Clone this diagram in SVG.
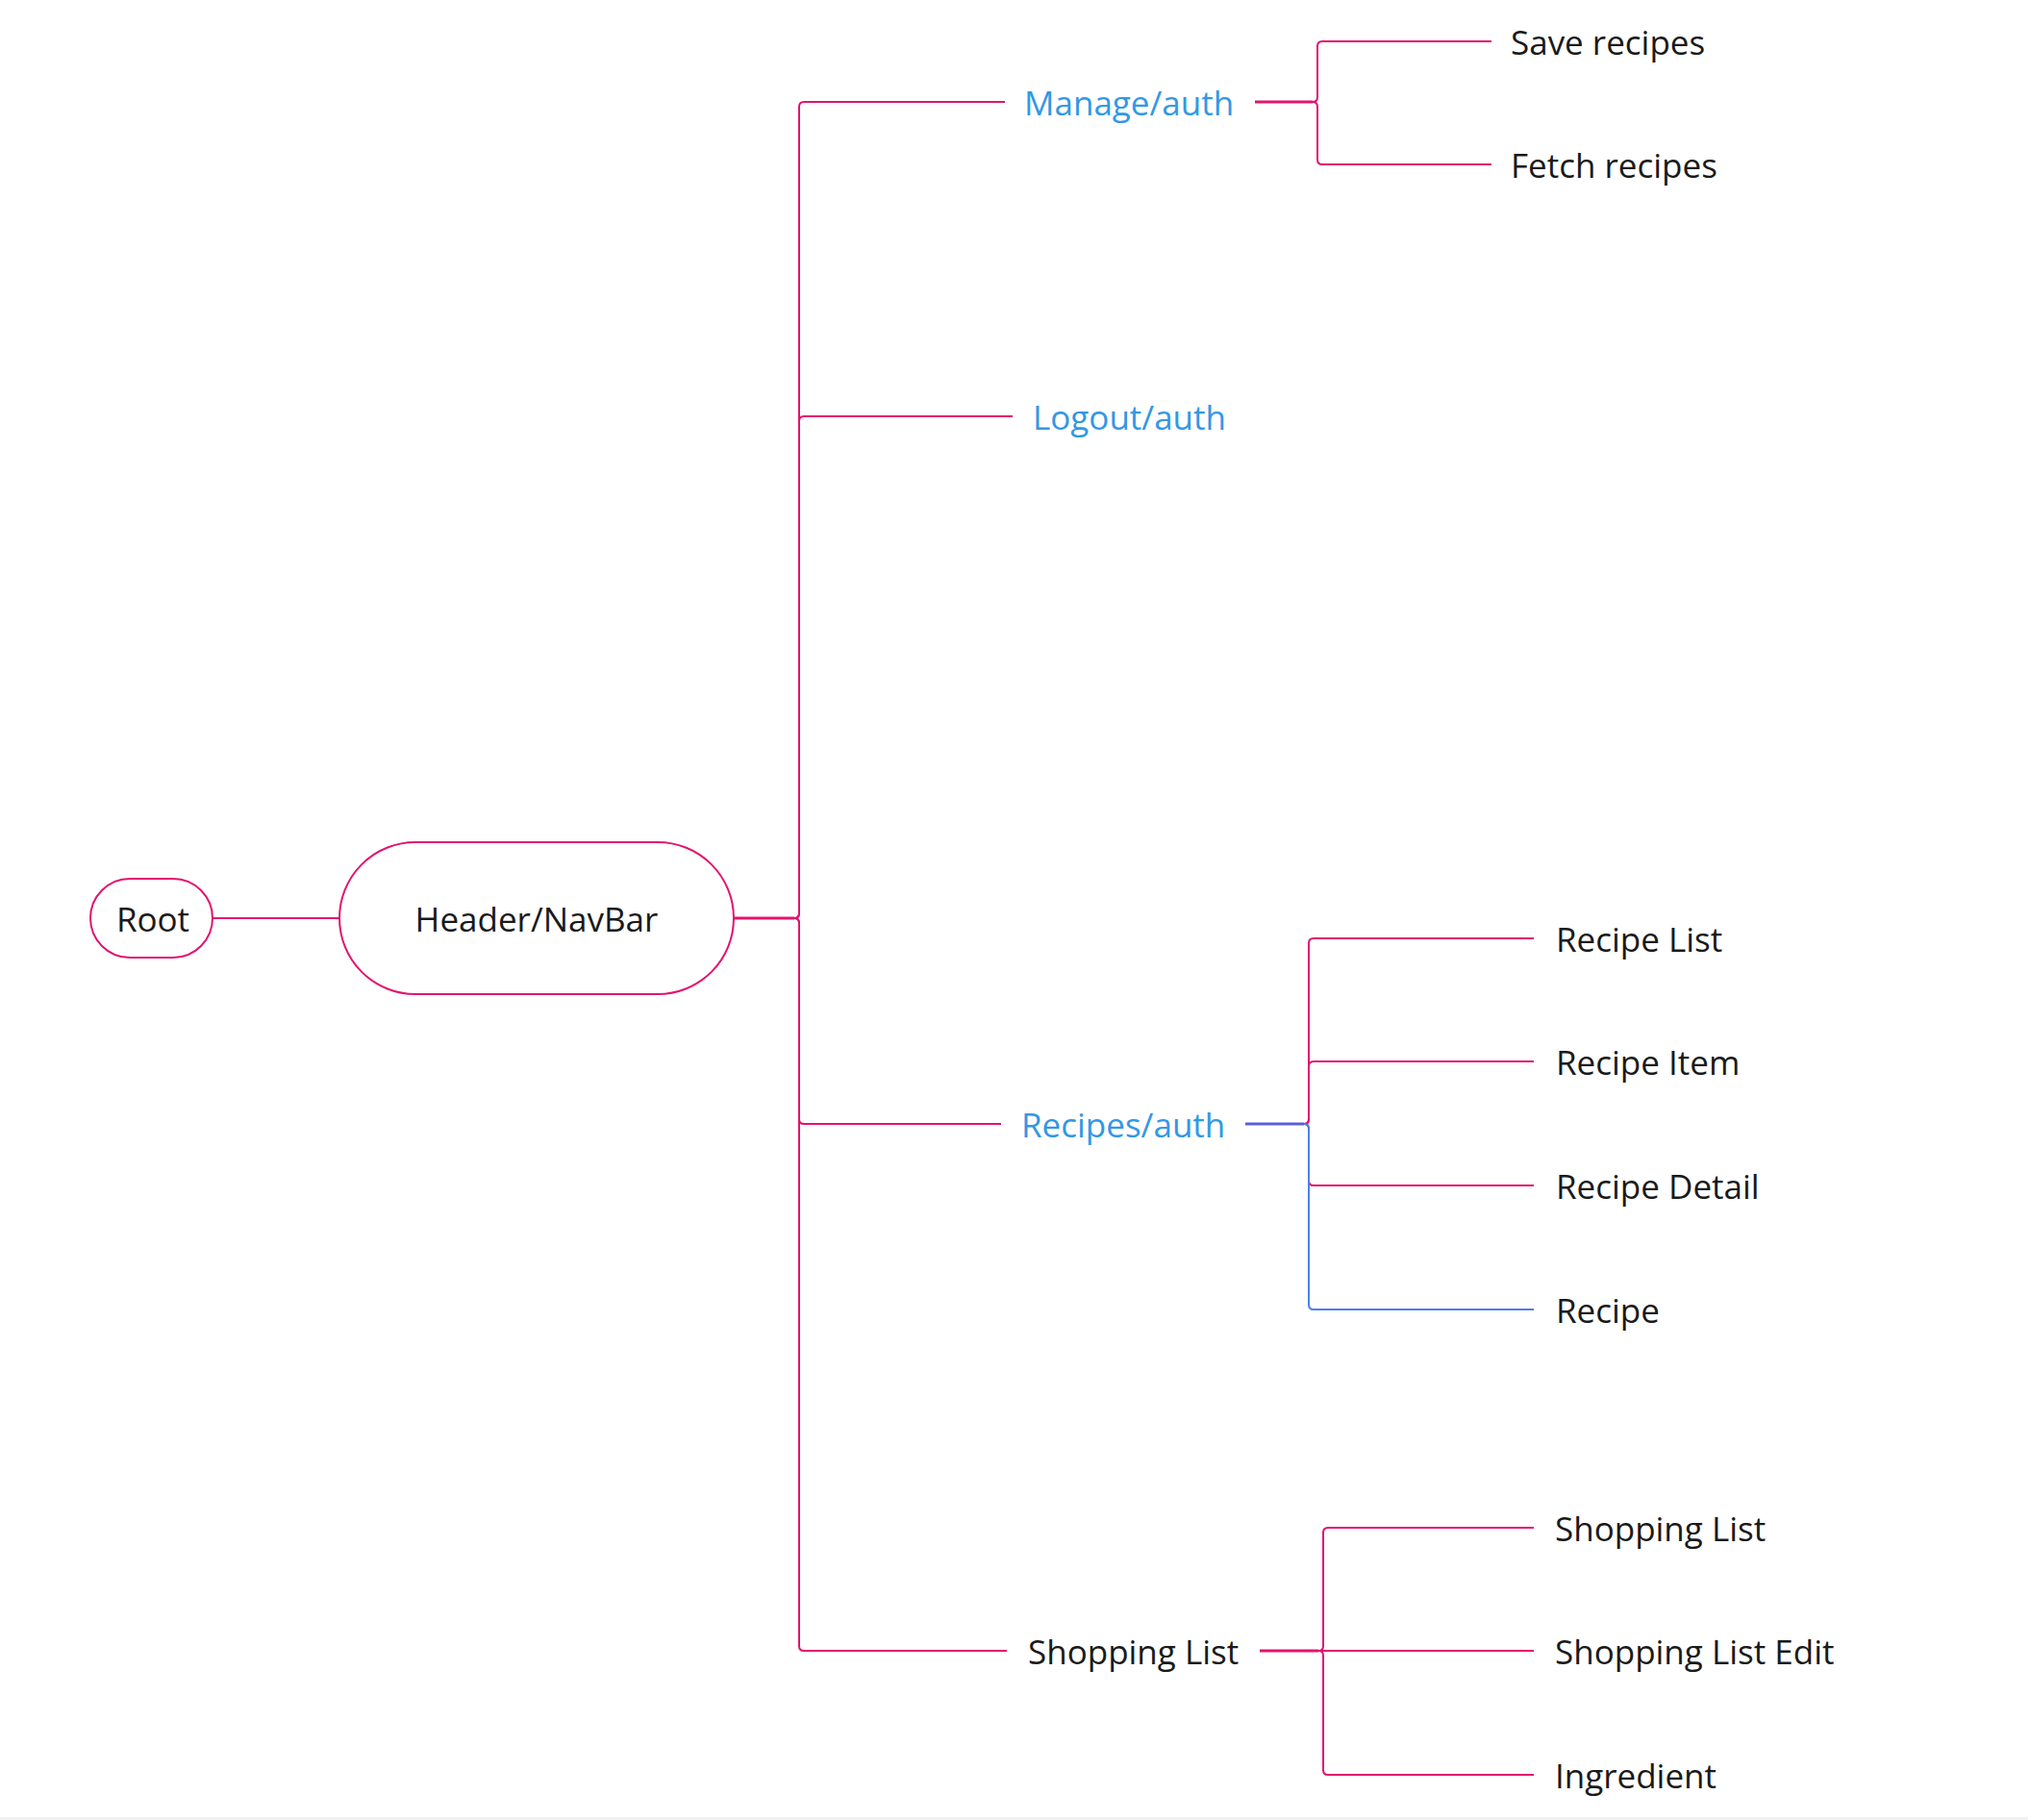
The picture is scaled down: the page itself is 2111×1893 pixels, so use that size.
<svg xmlns="http://www.w3.org/2000/svg" width="2111" height="1893" viewBox="0 0 2111 1893">
<style>
.t{font-family:"Open Sans","Noto Sans",sans-serif;font-size:35px;fill:#1a1a1a;dominant-baseline:central}
.b{fill:#3398e4}
.c{fill:none;stroke:#e2146f;stroke-width:2}
.s{fill:none;stroke:#e2146f;stroke-width:3}
.bl{fill:none;stroke:#4f7fe6;stroke-width:2}
.pu{fill:none;stroke:#5a5fdc;stroke-width:3}
.n{fill:#fff;stroke:#e2146f;stroke-width:2}
</style>
<rect x="0" y="0" width="2111" height="1893" fill="#fff"/>
<rect x="0" y="1890" width="2109" height="3" fill="#f2f2f2"/>
<g id="connectors">
<path class="c" d="M221 955 H353"/>
<path class="c" d="M763 955 H826 Q831 955 831 950 V111 Q831 106 836 106 H1045"/>
<path class="c" d="M763 955 H826 Q831 955 831 950 V438 Q831 433 836 433 H1053"/>
<path class="c" d="M763 955 H826 Q831 955 831 960 V1164 Q831 1169 836 1169 H1041"/>
<path class="c" d="M763 955 H826 Q831 955 831 960 V1712 Q831 1717 836 1717 H1047"/>
<path class="s" d="M763 955 H826"/>
<path class="c" d="M1305 106 H1365 Q1370 106 1370 101 V48 Q1370 43 1375 43 H1551"/>
<path class="c" d="M1305 106 H1365 Q1370 106 1370 111 V166 Q1370 171 1375 171 H1551"/>
<path class="s" d="M1305 106 H1365"/>
<path class="c" d="M1295 1169 H1356 Q1361 1169 1361 1164 V981 Q1361 976 1366 976 H1595"/>
<path class="c" d="M1295 1169 H1356 Q1361 1169 1361 1164 V1109 Q1361 1104 1366 1104 H1595"/>
<path class="c" d="M1295 1169 H1356 Q1361 1169 1361 1174 V1228 Q1361 1233 1366 1233 H1595"/>
<path class="bl" d="M1295 1169 H1356 Q1361 1169 1361 1174 V1357 Q1361 1362 1366 1362 H1595"/>
<path class="pu" d="M1295 1169 H1356"/>
<path class="c" d="M1310 1717 H1371 Q1376 1717 1376 1712 V1594 Q1376 1589 1381 1589 H1595"/>
<path class="c" d="M1310 1717 H1595"/>
<path class="c" d="M1310 1717 H1371 Q1376 1717 1376 1722 V1841 Q1376 1846 1381 1846 H1595"/>
<path class="s" d="M1310 1717 H1371"/>
</g>
<g id="root"><rect class="n" x="94" y="914" width="127" height="82" rx="41"/><text class="t" x="159" y="955" text-anchor="middle">Root</text></g>
<g id="header"><rect class="n" x="353" y="876" width="410" height="158" rx="79"/><text class="t" x="558" y="955" text-anchor="middle">Header/NavBar</text></g>
<g id="manage"><text class="t b" x="1065" y="106">Manage/auth</text></g>
<g id="logout"><text class="t b" x="1074" y="433">Logout/auth</text></g>
<g id="recipes"><text class="t b" x="1062" y="1169">Recipes/auth</text></g>
<g id="shopping"><text class="t" x="1069" y="1717">Shopping List</text></g>
<g id="save"><text class="t" x="1571" y="43">Save recipes</text></g>
<g id="fetch"><text class="t" x="1571" y="171">Fetch recipes</text></g>
<g id="recipelist"><text class="t" x="1618" y="976">Recipe List</text></g>
<g id="recipeitem"><text class="t" x="1618" y="1104">Recipe Item</text></g>
<g id="recipedetail"><text class="t" x="1618" y="1233">Recipe Detail</text></g>
<g id="recipe"><text class="t" x="1618" y="1362">Recipe</text></g>
<g id="sl"><text class="t" x="1617" y="1589">Shopping List</text></g>
<g id="sledit"><text class="t" x="1617" y="1717">Shopping List Edit</text></g>
<g id="ingredient"><text class="t" x="1617" y="1846">Ingredient</text></g>
</svg>
